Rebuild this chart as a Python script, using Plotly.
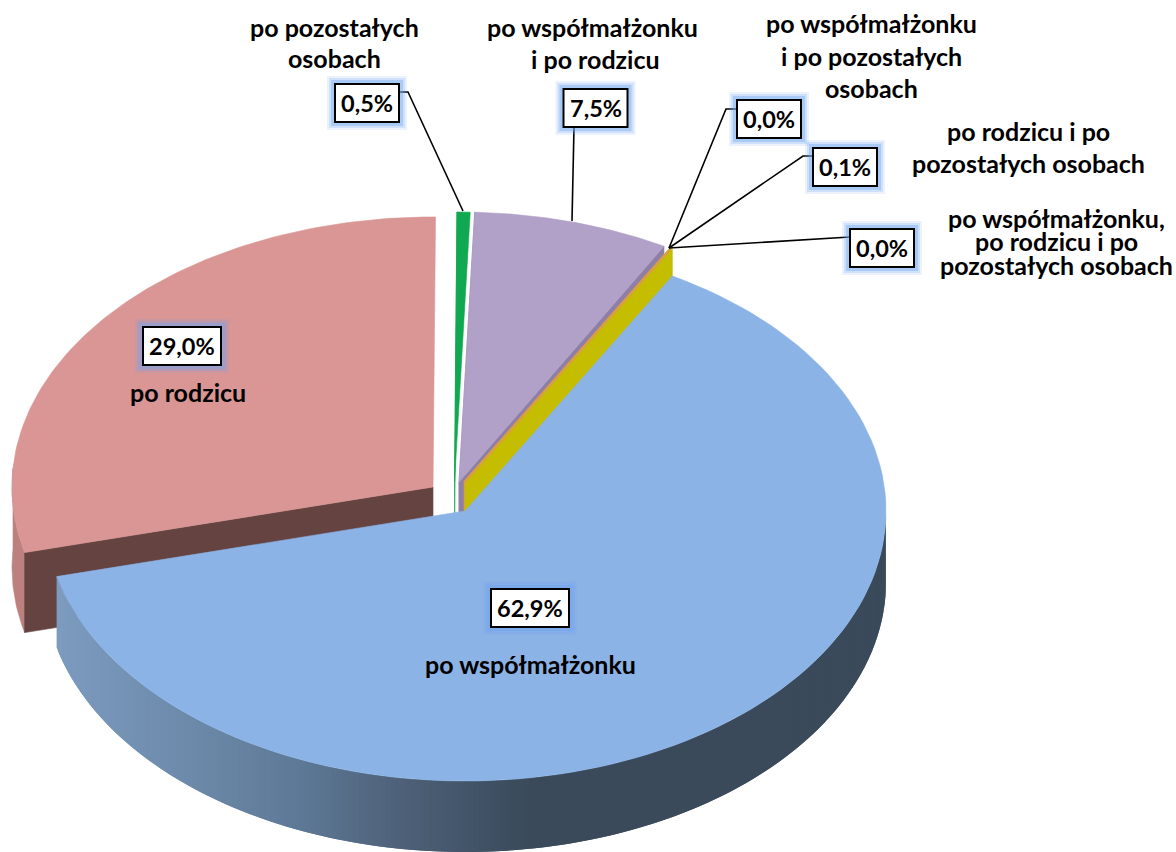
import math
import plotly.graph_objects as go

# ---- data ----
categories = ["po współmałżonku", "po rodzicu", "po pozostałych osobach",
              "po współmałżonku i po rodzicu", "po współmałżonku i po pozostałych osobach",
              "po rodzicu i po pozostałych osobach",
              "po współmałżonku, po rodzicu i po pozostałych osobach"]
values = [62.9, 29.0, 0.5, 7.5, 0.0, 0.1, 0.0]
value_labels = ["62,9%", "29,0%", "0,5%", "7,5%", "0,0%", "0,1%", "0,0%"]

# ---- layout of the drawing ----
W, H = 1176, 852
START = 29.5
RX, RY, DEPTH = 421, 270, 80
BLUE_DEPTH = 71
FONT = "Lato"
CENTRES = {0: (465, 511), 1: (433, 487), 2: (454.5, 482), 3: (459, 482)}
THIN_CENTRE = (465, 484)
BOXES = [(530, 608, 78), (182, 346, 78), (367, 103, 64), (595.5, 108, 64),
         (769, 119, 64), (845, 167, 64), (882, 248, 64)]
CAPTIONS = [("po pozostałych", 334, 27), ("osobach", 334, 58),
            ("po współmałżonku", 592, 27), ("i po rodzicu", 595, 59),
            ("po współmałżonku", 871, 23), ("i po pozostałych", 871, 56), ("osobach", 871, 88),
            ("po rodzicu i po", 1028, 131), ("pozostałych osobach", 1028, 163),
            ("po współmałżonku,", 1056, 218), ("po rodzicu i po", 1056, 241),
            ("pozostałych osobach", 1056, 265),
            ("po rodzicu", 188, 392), ("po współmałżonku", 530, 664)]
LEADERS = [[(399, 92), (408, 92), (463, 211)],
           [(574, 127), (572, 221)],
           [(737, 109), (726, 109), (669, 248)],
           [(813, 156), (803, 156), (669, 248)],
           [(850, 237), (669, 248)]]

TOP = {0: "#8CB3E5", 1: "#D99694", 2: "#10A850", 3: "#B1A0C7"}
CUT = {1: "#654341", 2: "#10A850", 3: "#8F7FA6"}
YELLOW, ORANGE = "#C4BD00", "#D8A040"
RIM_STOPS = [(50, (125, 156, 192)), (200, (107, 136, 168)), (300, (93, 120, 149)),
             (400, (78, 96, 120)), (500, (61, 78, 96)), (530, (58, 74, 90)), (900, (58, 74, 90))]

# ---- angles from the values ----
edges = [START]
for v in values:
    edges.append(edges[-1] + v * 3.6)


def rim(centre, deg, dy=0):
    t = math.radians(deg)
    return centre[0] + RX * math.sin(t), centre[1] - RY * math.cos(t) + dy


def arc(centre, a, b, dy=0, n=120):
    return [rim(centre, a + (b - a) * i / n, dy) for i in range(n + 1)]


fig = go.Figure()


def poly(pts, color, lw=0.6):
    fig.add_trace(go.Scatter(x=[p[0] for p in pts] + [pts[0][0]],
                             y=[p[1] for p in pts] + [pts[0][1]],
                             mode="lines", fill="toself", fillcolor=color,
                             line=dict(color=color, width=lw),
                             hoverinfo="skip", showlegend=False))


def wedge(c, a, b, color):
    poly([c] + arc(c, a, b), color)


def cut(c, a, color, dy=DEPTH):
    p = rim(c, a)
    poly([c, p, (p[0], p[1] + dy), (c[0], c[1] + dy)], color)


def rim_color(x):
    for (x0, c0), (x1, c1) in zip(RIM_STOPS, RIM_STOPS[1:]):
        if x <= x1:
            f = max(0.0, (x - x0) / (x1 - x0))
            return "rgb(%d,%d,%d)" % tuple(round(c0[i] + (c1[i] - c0[i]) * f) for i in range(3))
    return "rgb(%d,%d,%d)" % RIM_STOPS[-1][1]


# parent slice (left, exploded)
c = CENTRES[1]
a, b = edges[1], edges[2]
outer = arc(c, a, a + 18, 0, 30)
poly(outer + [(x, y + DEPTH) for x, y in reversed(outer)], "#BC817F")
cut(c, a, CUT[1])
wedge(c, a, b, TOP[1])

# rest-of-family slice
c = CENTRES[2]
cut(c, edges[2], CUT[2])
wedge(c, edges[2], edges[3], TOP[2])

# spouse + parent slice, and the hairline slices next to it
c = CENTRES[3]
cut(c, edges[3], CUT[3])
cut(c, edges[4], CUT[3])
wedge(c, edges[3], edges[4], TOP[3])
cut((THIN_CENTRE[0] - 1, THIN_CENTRE[1] - 3), edges[7], ORANGE)
cut(THIN_CENTRE, edges[7], YELLOW)

# spouse slice: shaded rim then face (rim painted left to right, each band overlapping the next)
c = CENTRES[0]
a, b = edges[1], edges[0] + 60
n = 220
for i in range(n):
    d0 = a - (a - b) * i / n
    d1 = a - (a - b) * (i + 2) / n
    x0, y0 = rim(c, d0)
    x1, y1 = rim(c, max(d1, b))
    poly([(x0, y0), (x1, y1), (x1, y1 + BLUE_DEPTH), (x0, y0 + BLUE_DEPTH)], rim_color(x0), lw=0)
wedge(c, edges[0], edges[1], TOP[0])

# ---- labels, boxes, leader lines ----
shapes, annotations = [], []
for path in LEADERS:
    d = "M " + " L ".join(f"{x},{y}" for x, y in path)
    shapes.append(dict(type="path", path=d, line=dict(color="#000000", width=1.6), layer="above"))

for (cx, cy, w), txt in zip(BOXES, value_labels):
    x0, x1, y0, y1 = cx - w / 2, cx + w / 2, cy - 19, cy + 19
    for lw, alpha in ((16, 0.14), (12, 0.22), (8, 0.38)):
        shapes.append(dict(type="rect", x0=x0, x1=x1, y0=y0, y1=y1, layer="above",
                           line=dict(color=f"rgba(110,165,240,{alpha})", width=lw)))
    shapes.append(dict(type="rect", x0=x0, x1=x1, y0=y0, y1=y1, layer="above",
                       fillcolor="#FFFFFF", line=dict(color="#000000", width=2)))
    annotations.append(dict(x=cx, y=cy, text=f"<b>{txt}</b>", showarrow=False,
                            xanchor="center", yanchor="middle",
                            font=dict(family=FONT, size=23.5, color="#000000")))

for txt, x, y in CAPTIONS:
    annotations.append(dict(x=x, y=y, text=f"<b>{txt}</b>", showarrow=False,
                            xanchor="center", yanchor="middle",
                            font=dict(family=FONT, size=25, color="#000000")))

fig.update_layout(width=W, height=H, margin=dict(l=0, r=0, t=0, b=0),
                  paper_bgcolor="#FFFFFF", plot_bgcolor="#FFFFFF", showlegend=False,
                  shapes=shapes, annotations=annotations,
                  xaxis=dict(range=[0, W], visible=False, fixedrange=True),
                  yaxis=dict(range=[H, 0], visible=False, fixedrange=True))

fig.write_html("out.html", config={"displayModeBar": False},
               post_script="document.body.style.margin='0';document.body.style.overflow='hidden';")
